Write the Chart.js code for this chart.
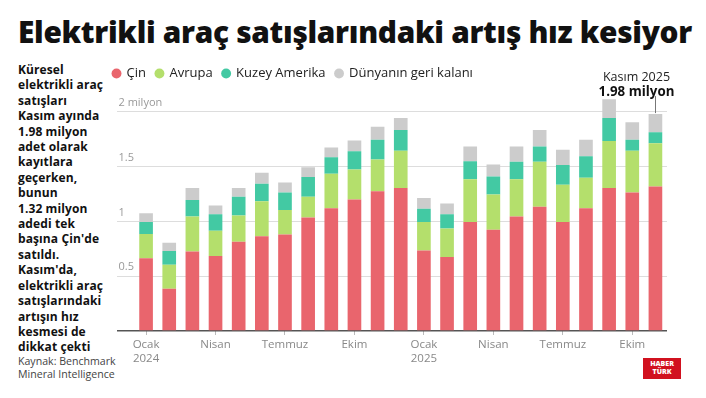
<!DOCTYPE html>
<html lang="tr">
<head>
<meta charset="utf-8">
<script src="https://cdn.jsdelivr.net/npm/chart.js@4"></script>
<style>
  body { margin: 0; width: 706px; height: 398px; background: #fff; overflow: hidden; position: relative; font-family: 'Open Sans', sans-serif; }
  #title { position: absolute; left: 18px; top: 11px; font-size: 29.8px; font-weight: 800; color: #111; letter-spacing: -0.3px; white-space: nowrap; }
  #note { position: absolute; left: 18px; top: 62px; font-size: 12px; font-weight: 700; line-height: 15.4px; color: #111; letter-spacing: 0.1px; }
  #source { position: absolute; left: 18px; top: 355px; font-size: 10.6px; line-height: 12.5px; color: #444; }
  #logo { position: absolute; left: 643px; top: 358px; width: 38px; height: 21px; background: #d1111f; color: #fff; font-size: 7px; font-weight: 800; line-height: 8px; text-align: center; padding-top: 2px; box-sizing: border-box; }
  #chart { position: absolute; left: 103px; top: 57px; }
</style>
</head>
<body>
<div id="title">Elektrikli araç satışlarındaki artış hız kesiyor</div>
<div id="note">Küresel<br>elektrikli araç<br>satışları<br>Kasım ayında<br>1.98 milyon<br>adet olarak<br>kayıtlara<br>geçerken,<br>bunun<br>1.32 milyon<br>adedi tek<br>başına Çin'de<br>satıldı.<br>Kasım'da,<br>elektrikli araç<br>satışlarındaki<br>artışın hız<br>kesmesi de<br>dikkat çekti</div>
<div id="source">Kaynak: Benchmark<br>Mineral Intelligence</div>
<div id="logo">HABER<br>TÜRK</div>
<canvas id="chart" width="603" height="341"></canvas>
<script>
// aylık satış, milyon adet (Ocak 2024 - Kasım 2025)
const months = ['Oca 2024', 'Şub 2024', 'Mar 2024', 'Nis 2024', 'May 2024', 'Haz 2024', 'Tem 2024', 'Ağu 2024', 'Eyl 2024', 'Eki 2024', 'Kas 2024', 'Ara 2024',
  'Oca 2025', 'Şub 2025', 'Mar 2025', 'Nis 2025', 'May 2025', 'Haz 2025', 'Tem 2025', 'Ağu 2025', 'Eyl 2025', 'Eki 2025', 'Kas 2025'];
const xTickLabels = [['Ocak', '2024'], '', '', 'Nisan', '', '', 'Temmuz', '', '', 'Ekim', '', '',
  ['Ocak', '2025'], '', '', 'Nisan', '', '', 'Temmuz', '', '', 'Ekim', ''];

const china = [0.665, 0.385, 0.725, 0.685, 0.815, 0.865, 0.88, 1.035, 1.12, 1.2, 1.275, 1.305, 0.735, 0.675, 0.995, 0.925, 1.045, 1.135, 0.995, 1.12, 1.305, 1.265, 1.32];
const europe = [0.22, 0.22, 0.32, 0.23, 0.24, 0.32, 0.225, 0.19, 0.315, 0.275, 0.29, 0.34, 0.26, 0.26, 0.39, 0.32, 0.34, 0.41, 0.34, 0.28, 0.43, 0.38, 0.395];
const northAmerica = [0.11, 0.125, 0.15, 0.15, 0.17, 0.16, 0.16, 0.18, 0.15, 0.165, 0.18, 0.19, 0.12, 0.13, 0.165, 0.165, 0.16, 0.14, 0.18, 0.195, 0.21, 0.1, 0.1];
const restOfWorld = [0.08, 0.075, 0.11, 0.08, 0.08, 0.1, 0.09, 0.09, 0.09, 0.1, 0.12, 0.11, 0.1, 0.1, 0.135, 0.11, 0.14, 0.15, 0.14, 0.15, 0.17, 0.16, 0.165];

const yTickValues = [0, 0.5, 1, 1.5, 2];
const yTickLabels = ['', '0.5', '1', '1.5', '2 milyon'];
const calloutDate = 'Kasım 2025';

Chart.defaults.font.family = "'Open Sans', sans-serif";

// Kasım 2025 için üstteki not ve çizgi
const callout = {
  id: 'callout',
  afterDatasetsDraw(chart) {
    const { ctx, scales: { x, y } } = chart;
    const i = months.length - 1;
    const total = china[i] + europe[i] + northAmerica[i] + restOfWorld[i];
    const px = Math.round(x.getPixelForValue(i)) + 0.5;
    const top = y.getPixelForValue(total);
    ctx.save();
    ctx.strokeStyle = '#777';
    ctx.lineWidth = 1;
    ctx.beginPath();
    ctx.moveTo(px, top - 18);
    ctx.lineTo(px, top - 1);
    ctx.stroke();
    ctx.textAlign = 'center';
    ctx.fillStyle = '#222';
    ctx.font = "400 12.5px 'Open Sans', sans-serif";
    ctx.fillText(calloutDate, px - 19, top - 37);
    ctx.fillStyle = '#111';
    ctx.font = "700 13.3px 'Open Sans', sans-serif";
    ctx.fillText(total.toFixed(2) + ' milyon', px - 19, top - 22);
    ctx.restore();
  }
};

new Chart(document.getElementById('chart'), {
  type: 'bar',
  data: {
    labels: months,
    datasets: [
      { label: 'Çin', data: china, backgroundColor: '#e9656d' },
      { label: 'Avrupa', data: europe, backgroundColor: '#b4df6c' },
      { label: 'Kuzey Amerika', data: northAmerica, backgroundColor: '#43c9a3' },
      { label: 'Dünyanın geri kalanı', data: restOfWorld, backgroundColor: '#cccccc' }
    ]
  },
  options: {
    responsive: false,
    animation: false,
    layout: { padding: { left: 0, right: 39, top: 0, bottom: 27 } },
    datasets: { bar: { barPercentage: 0.59, categoryPercentage: 1, borderWidth: 0 } },
    plugins: {
      legend: {
        position: 'top',
        align: 'start',
        labels: { usePointStyle: true, pointStyle: 'circle', boxWidth: 7, boxHeight: 7, padding: 10, color: '#222', font: { size: 13 } }
      },
      tooltip: { enabled: false }
    },
    scales: {
      x: {
        stacked: true,
        offset: true,
        border: { display: false },
        grid: {
          offset: false,
          drawOnChartArea: false,
          tickLength: 4,
          color: (c) => (xTickLabels[c.index] ? '#bbbbbb' : 'rgba(0,0,0,0)')
        },
        ticks: {
          autoSkip: false,
          maxRotation: 0,
          padding: 3,
          color: '#888',
          font: { size: 11.5 },
          callback: (v, i) => xTickLabels[i]
        },
        afterFit: (s) => { s.height = 40; }
      },
      y: {
        stacked: true,
        min: 0,
        max: 2.2,
        border: { display: false },
        grid: {
          tickLength: 17.5,
          color: (c) => (c.tick && c.tick.value === 0 ? '#555555' : '#dddddd'),
          lineWidth: (c) => (c.tick && c.tick.value === 0 ? 1.5 : 1)
        },
        ticks: {
          mirror: true,
          crossAlign: 'near',
          padding: -16,
          labelOffset: -9,
          color: '#999',
          font: { size: 11 },
          callback: (v) => {
            const k = yTickValues.indexOf(v);
            return k >= 0 ? yTickLabels[k] : '';
          }
        },
        afterBuildTicks: (s) => { s.ticks = yTickValues.map((v) => ({ value: v })); },
        afterFit: (s) => { s.width = 31.5; }
      }
    }
  },
  plugins: [callout]
});
</script>
</body>
</html>
